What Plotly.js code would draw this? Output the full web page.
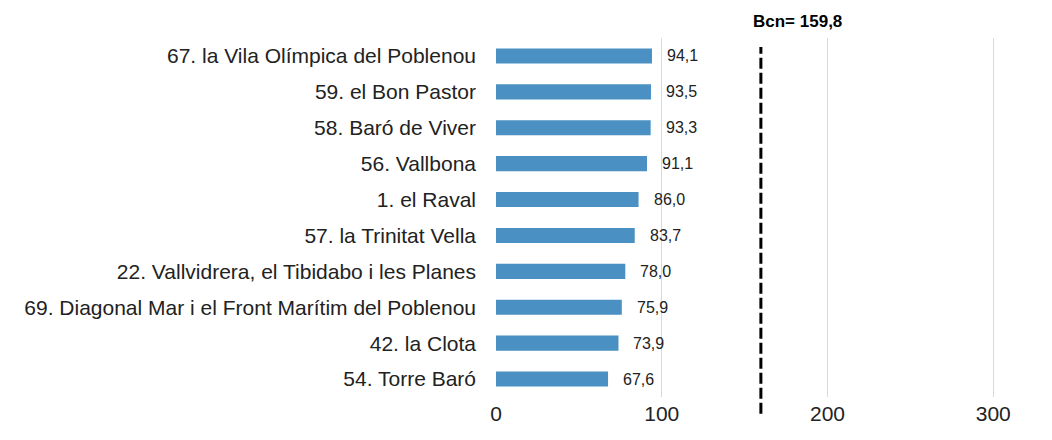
<!DOCTYPE html>
<html>
<head>
<meta charset="utf-8">
<script src="https://cdn.plot.ly/plotly-3.0.1.min.js"></script>
<style>html,body{margin:0;padding:0;background:#fff;}#chart{width:1052px;height:440px;}</style>
</head>
<body>
<div id="chart"></div>
<script>
const categories = [
  "67. la Vila Olímpica del Poblenou",
  "59. el Bon Pastor",
  "58. Baró de Viver",
  "56. Vallbona",
  "1. el Raval",
  "57. la Trinitat Vella",
  "22. Vallvidrera, el Tibidabo i les Planes",
  "69. Diagonal Mar i el Front Marítim del Poblenou",
  "42. la Clota",
  "54. Torre Baró"
];
const values = [94.1, 93.5, 93.3, 91.1, 86.0, 83.7, 78.0, 75.9, 73.9, 67.6];
const bcnValue = 159.8;
const bcnLabel = "Bcn= 159,8";
const xTicks = [0, 100, 200, 300];

const fmt = v => v.toFixed(1).replace('.', ',');
const FONT = 'Liberation Sans, Arial, sans-serif';

const trace = {
  type: 'bar',
  orientation: 'h',
  y: categories,
  x: values,
  marker: {color: '#4a90c2'},
  width: 0.42,
  hoverinfo: 'x+y'
};

const annotations = values.map((v, i) => ({
  x: v, y: categories[i], xref: 'x', yref: 'y',
  text: fmt(v), showarrow: false, xanchor: 'left', yanchor: 'middle',
  xshift: 13, font: {family: FONT, size: 16, color: '#222'}
}));
annotations.push({
  x: bcnValue, xref: 'x', y: 1.045, yref: 'paper', text: '<b>' + bcnLabel + '</b>',
  showarrow: false, xanchor: 'left', yanchor: 'middle', xshift: -10,
  font: {family: FONT, size: 17, color: '#000'}
});

const layout = {
  width: 1052, height: 440,
  margin: {l: 496, r: 9, t: 38, b: 43},
  paper_bgcolor: '#fff', plot_bgcolor: '#fff',
  showlegend: false,
  xaxis: {
    range: [0, 330], tickvals: xTicks, ticktext: xTicks.map(String),
    showgrid: true, gridcolor: '#d9d9d9', gridwidth: 1,
    zeroline: false, showline: false, ticks: '',
    tickfont: {family: FONT, size: 21, color: '#222'},
    ticklabelstandoff: 2, fixedrange: true
  },
  yaxis: {
    autorange: 'reversed', type: 'category',
    showgrid: false, zeroline: false, showline: false, ticks: '',
    ticklabelstandoff: 19,
    tickfont: {family: FONT, size: 21, color: '#222'},
    fixedrange: true
  },
  shapes: [{
    type: 'line', xref: 'x', yref: 'paper', x0: bcnValue, x1: bcnValue, y0: -0.047, y1: 0.975,
    line: {color: '#000', width: 3, dash: '11px,4px'}
  }],
  annotations: annotations
};

Plotly.newPlot('chart', [trace], layout, {displayModeBar: false, staticPlot: true});
</script>
</body>
</html>
